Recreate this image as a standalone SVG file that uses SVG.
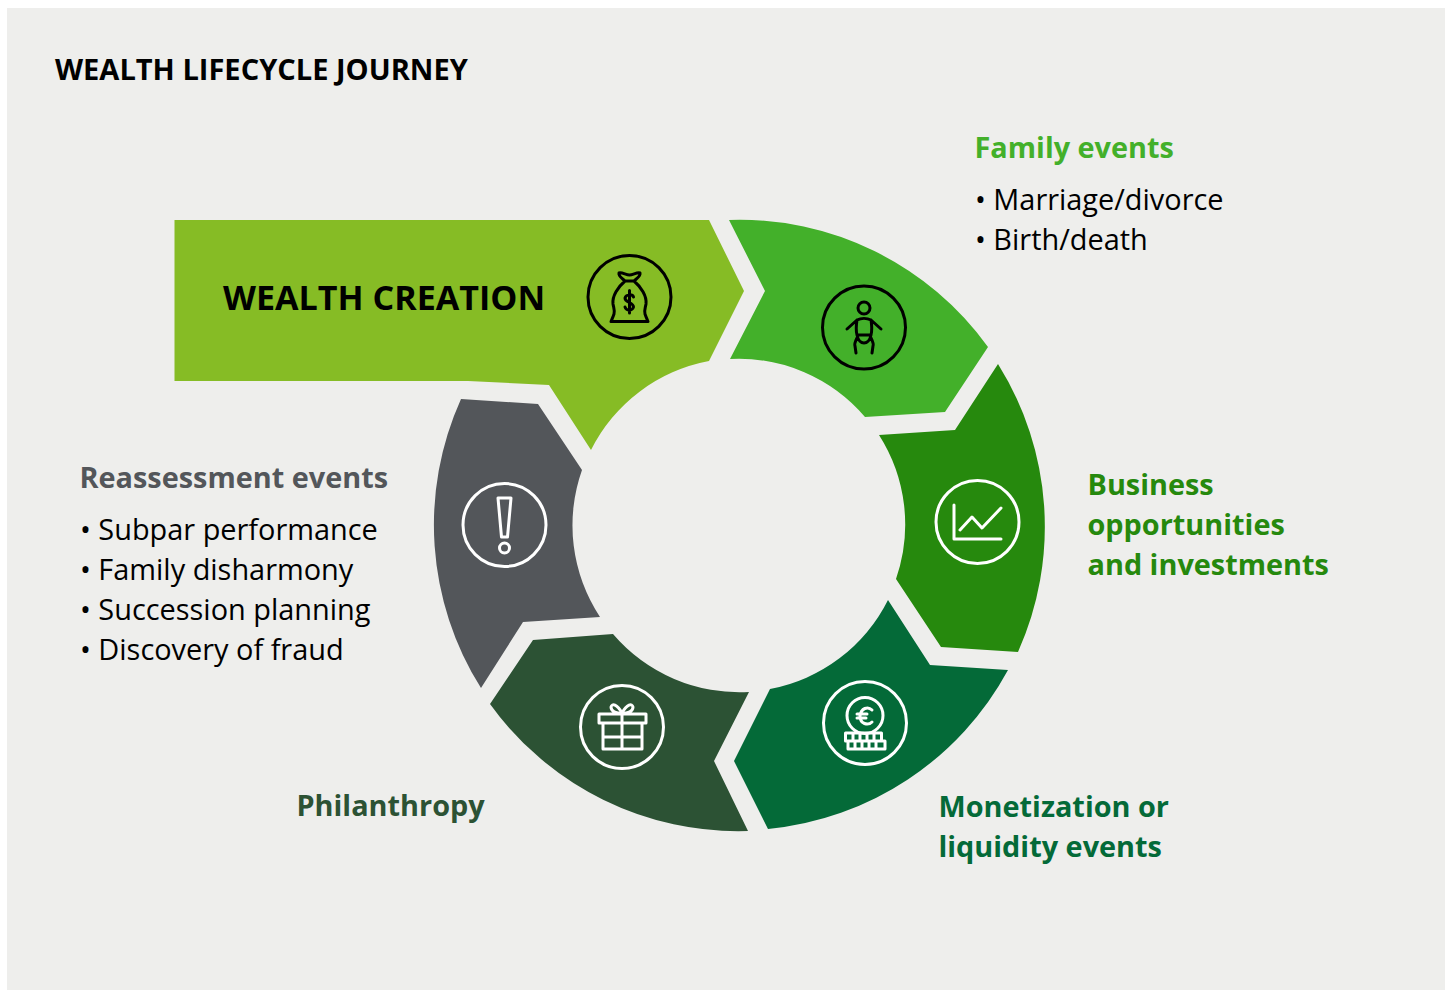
<svg xmlns="http://www.w3.org/2000/svg" width="1450" height="990" viewBox="0 0 1450 990">
<style>
text{font-family:"Open Sans","Noto Sans",sans-serif}
.h{font-size:28.850px;font-weight:700}
.b{font-size:28.900px;fill:#000}
.ik{fill:none;stroke:#000;stroke-width:3;stroke-linecap:round;stroke-linejoin:round}
.iw{fill:none;stroke:#fff;stroke-width:3;stroke-linecap:round;stroke-linejoin:round}
</style>
<rect width="1450" height="990" fill="#fff"/>
<rect x="7" y="8" width="1438" height="982" fill="#eeeeec"/>
<text id="title" x="55" y="80" font-size="29.050" font-weight="700" fill="#000">WEALTH LIFECYCLE JOURNEY</text>
<g id="node-wealth">
<path d="M174.500 220H709L744 291L709 361A166 166 0 0 0 591 450L549 385L468 381H174.500Z" fill="#86bc25"/>
<text x="223" y="310" font-size="34.100" font-weight="700" fill="#000">WEALTH CREATION</text>
<circle cx="629.500" cy="297" r="41.500" class="ik"/>
<path class="ik" d="M619 273C622 272 626 275 629.500 275C633 275 637 272 640 273C641 276 636 279 634 281H625C623 279 618 276 619 273ZM625 281C618 287 612 296 613 304C614 309 615 311 614 314C613 317 612 319 611 321.500H648C647 319 646 317 645 314C644 311 645 309 646 304C647 296 641 287 634 281"/>
<path class="ik" stroke-width="2.500" d="M633.500 297C632.500 294 626 294 625 298C625 303 633.500 302 633.500 307C632.500 311 626 311 625 307M629.500 290.500V313"/>
</g>
<g id="node-family">
<path d="M729 220A306 306 0 0 1 988 347L945 412L865 417A166 166 0 0 0 730 359L765 291Z" fill="#43b02a"/>
<circle cx="864" cy="327.500" r="41.500" class="ik"/>
<circle cx="864" cy="308" r="6" class="ik"/>
<path class="ik" d="M847 329L857 320C861 318 867 318 871 320L881 329M857 320C856 326 856 331 857 335H871C872 331 872 326 871 320M857 335C858 340 861 343 864 343C867 343 870 340 871 335M857 338C855 342 854 344 855 346L856 353M871 338C873 342 874 344 873 346L872 353"/>
</g>
<g id="node-business">
<path d="M998 364A306 306 0 0 1 1018 652L941 647L896 579A166 166 0 0 0 879 435L955 430Z" fill="#26890d"/>
<circle cx="977.500" cy="522" r="41.500" class="iw"/>
<path class="iw" d="M954 505V539H1001M960 530L972 517L982 528L1001 508"/>
</g>
<g id="node-monetization">
<path d="M1008 670A306 306 0 0 1 768 829L734 761L770 689A166 166 0 0 0 888 600L930 665Z" fill="#046a38"/>
<circle cx="865" cy="723" r="41.500" class="iw"/>
<circle cx="865" cy="715.500" r="18" class="iw"/>
<path class="iw" d="M872 710C868 706 861 708 860 716C860 724 868 726 872 722M857 714H867M857 718H866"/>
<path class="iw" stroke-width="2.500" d="M845.500 733H881.500V741H845.500ZM848 741H885V749H848ZM853 733V741M860 733V741M867 733V741M874 733V741M855 741V749M862 741V749M869 741V749M876 741V749"/>
</g>
<g id="node-philanthropy">
<path d="M748 831A306 306 0 0 1 490 704L533 640L613 634A166 166 0 0 0 749 692L714 761Z" fill="#2c5234"/>
<circle cx="622" cy="727" r="41.500" class="iw"/>
<path class="iw" d="M599 714H646V723H599ZM603 723V749H642V723M603 737H642M622 714V749M622 713C616 714 611 711 611 707C612 703 617 704 622 713C627 704 632 703 633 707C633 711 628 714 622 713"/>
</g>
<g id="node-reassessment">
<path d="M481 688A306 306 0 0 1 461 399L538 404L582 470A166 166 0 0 0 600 617L523 622Z" fill="#53565a"/>
<circle cx="504.500" cy="525" r="41.500" class="iw"/>
<path class="iw" d="M498 498H511L507.500 537H501.500Z"/>
<circle cx="504.500" cy="548" r="5" class="iw"/>
</g>
<g id="labels">
<text class="h" x="974.500" y="158" fill="#43b02a">Family events</text>
<text class="b" x="975" y="210">• Marriage/divorce</text>
<text class="b" x="975" y="250">• Birth/death</text>
<text class="h" fill="#26890d" x="1087.500" y="495">Business</text>
<text class="h" fill="#26890d" x="1087.500" y="535">opportunities</text>
<text class="h" fill="#26890d" x="1087.500" y="575">and investments</text>
<text class="h" fill="#046a38" x="938.500" y="817">Monetization or</text>
<text class="h" fill="#046a38" x="938.500" y="857">liquidity events</text>
<text class="h" fill="#2c5234" x="296.500" y="816">Philanthropy</text>
<text class="h" fill="#53565a" x="79.500" y="488">Reassessment events</text>
<text class="b" x="80" y="540">• Subpar performance</text>
<text class="b" x="80" y="580">• Family disharmony</text>
<text class="b" x="80" y="620">• Succession planning</text>
<text class="b" x="80" y="660">• Discovery of fraud</text>
</g>
</svg>
